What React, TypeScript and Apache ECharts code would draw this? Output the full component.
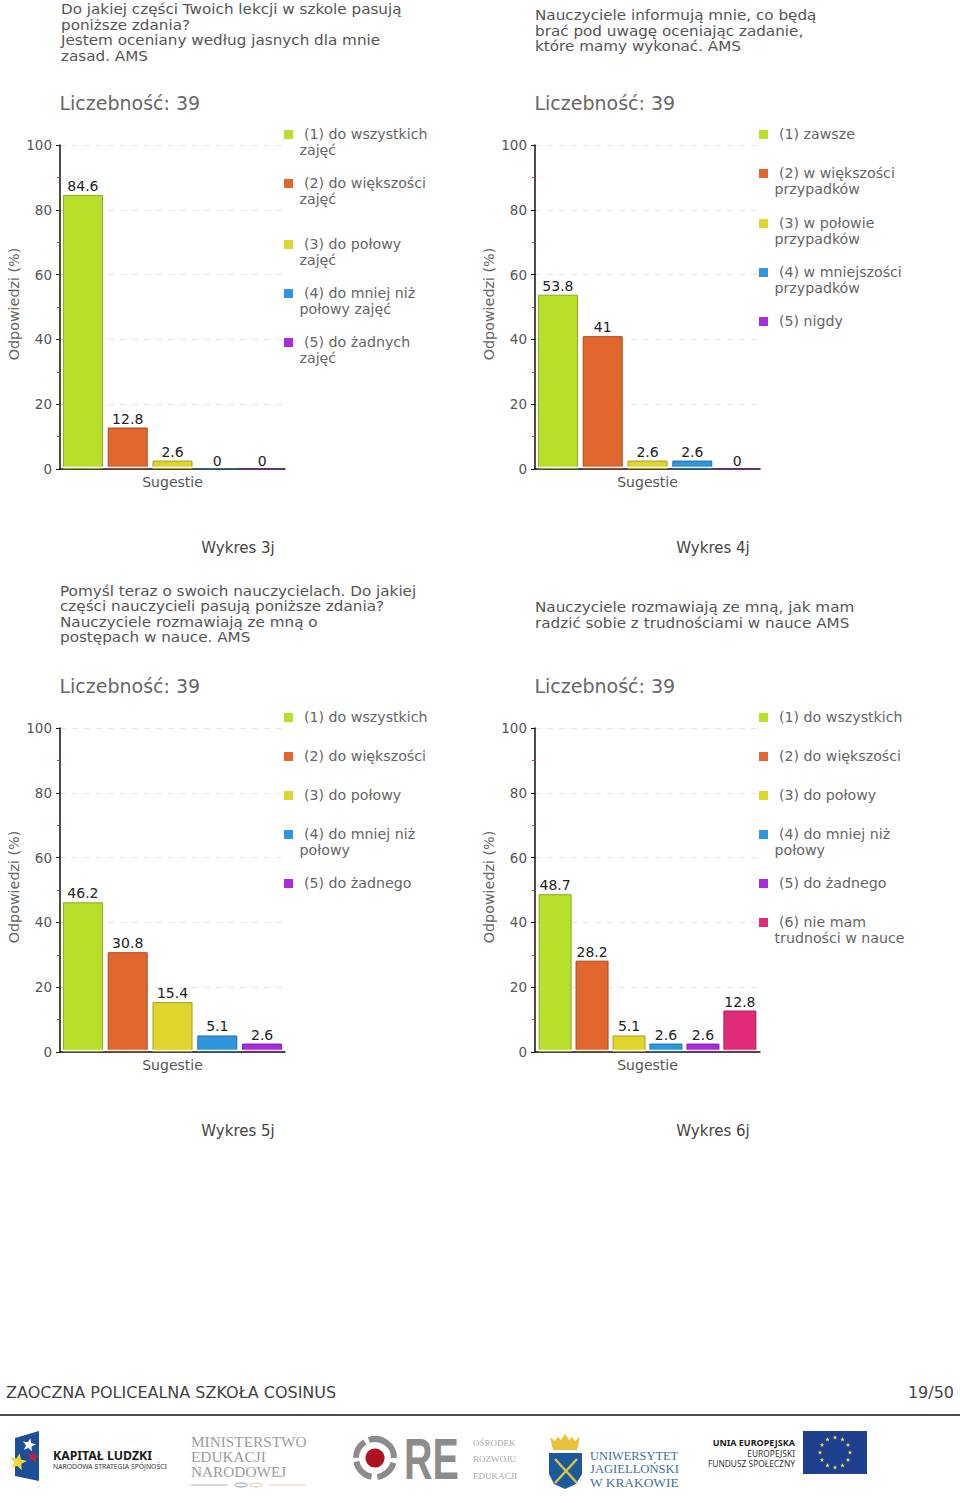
import React, { useEffect, useRef } from "react";
import * as echarts from "echarts";

const FONT = '"DejaVu Sans"';
const COLORS = ["#b8e02a", "#e0662e", "#e0d52c", "#2f95dd", "#a92ce0", "#e02c78"];
const BORDERS = ["#8aa828", "#a84a20", "#a89e20", "#2070a8", "#7c20a8", "#a82058"];
const CATEGORY = ["Sugestie"];
const COUNT_LABEL = "Liczebność: 39";

const values3j = [84.6, 12.8, 2.6, 0, 0];
const values4j = [53.8, 41, 2.6, 2.6, 0];
const values5j = [46.2, 30.8, 15.4, 5.1, 2.6];
const values6j = [48.7, 28.2, 5.1, 2.6, 2.6, 12.8];

const captions = ["Wykres 3j", "Wykres 4j", "Wykres 5j", "Wykres 6j"];

const title3j = ["Do jakiej części Twoich lekcji w szkole pasują", "poniższe zdania?", "Jestem oceniany według jasnych dla mnie", "zasad. AMS"];
const title4j = ["Nauczyciele informują mnie, co będą", "brać pod uwagę oceniając zadanie,", "które mamy wykonać. AMS"];
const title5j = ["Pomyśl teraz o swoich nauczycielach. Do jakiej", "części nauczycieli pasują poniższe zdania?", "Nauczyciele rozmawiają ze mną o", "postępach w nauce. AMS"];
const title6j = ["Nauczyciele rozmawiają ze mną, jak mam", "radzić sobie z trudnościami w nauce AMS"];

const legend3j = [["(1) do wszystkich", "zajęć"], ["(2) do większości", "zajęć"], ["(3) do połowy", "zajęć"], ["(4) do mniej niż", "połowy zajęć"], ["(5) do żadnych", "zajęć"]];
const legend4j = [["(1) zawsze"], ["(2) w większości", "przypadków"], ["(3) w połowie", "przypadków"], ["(4) w mniejszości", "przypadków"], ["(5) nigdy"]];
const legend5j = [["(1) do wszystkich"], ["(2) do większości"], ["(3) do połowy"], ["(4) do mniej niż", "połowy"], ["(5) do żadnego"]];
const legend6j = [["(1) do wszystkich"], ["(2) do większości"], ["(3) do połowy"], ["(4) do mniej niż", "połowy"], ["(5) do żadnego"], ["(6) nie mam", "trudności w nauce"]];

const charts = [
  { values: values3j, title: title3j, titleX: 61, titleY: [9, 25, 40, 56], legend: legend3j, legendY: [134, 183, 244, 293, 342], col: 0, row: 0 },
  { values: values4j, title: title4j, titleX: 535, titleY: [15, 31, 46], legend: legend4j, legendY: [134, 173, 223, 272, 321], col: 1, row: 0 },
  { values: values5j, title: title5j, titleX: 60, titleY: [591, 606, 622, 637], legend: legend5j, legendY: [717, 756, 795, 834, 883], col: 0, row: 1 },
  { values: values6j, title: title6j, titleX: 535, titleY: [607, 623], legend: legend6j, legendY: [717, 756, 795, 834, 883, 922], col: 1, row: 1 },
];

const COL_DX = 475;
const ROW_DY = 583;

function txt(text: string, x: number, y: number, font: string, fill: string, align = "left") {
  return { type: "text", silent: true, style: { text, x, y, font, fill, textAlign: align, textVerticalAlign: "middle" } };
}

function wideTxt(text: string, x: number, y: number, font: string, fill: string, scaleX: number) {
  return { type: "text", silent: true, x, y, scaleX, style: { text, x: 0, y: 0, font, fill, textVerticalAlign: "middle" } };
}

function star(cx: number, cy: number, r: number, fill: string, rot = 0) {
  const points: number[][] = [];
  for (let i = 0; i < 10; i++) {
    const a = -Math.PI / 2 + rot + (i * Math.PI) / 5;
    const rr = i % 2 === 0 ? r : r * 0.42;
    points.push([cx + rr * Math.cos(a), cy + rr * Math.sin(a)]);
  }
  return { type: "polygon", silent: true, shape: { points }, style: { fill } };
}

function logos(): any[] {
  const g: any[] = [];
  // Kapitał Ludzki
  g.push({ type: "polygon", silent: true, shape: { points: [[15, 1438], [39, 1431], [39, 1481], [15, 1476]] }, style: { fill: "#1d4f97" } });
  g.push(star(29, 1445, 7, "#ffffff", 0.2));
  g.push(star(33, 1457, 6, "#c5223a", 0.2));
  g.push(star(18, 1462, 9, "#f4d93a", 0.2));
  g.push(txt("KAPITAŁ LUDZKI", 53, 1455, `bold 12.3px "Noto Sans"`, "#1a1a1a"));
  g.push(txt("NARODOWA STRATEGIA SPÓJNOŚCI", 53, 1466, `6.8px "Noto Sans"`, "#333333"));
  // MEN
  g.push(txt("MINISTERSTWO", 191, 1441, `15.3px "Liberation Serif"`, "#9c9c9c"));
  g.push(txt("EDUKACJI", 191, 1456, `15.3px "Liberation Serif"`, "#9c9c9c"));
  g.push(txt("NARODOWEJ", 191, 1471, `15.3px "Liberation Serif"`, "#9c9c9c"));
  g.push({ type: "line", silent: true, shape: { x1: 191, y1: 1485, x2: 228, y2: 1485 }, style: { stroke: "#a9b4c0", lineWidth: 1 } });
  g.push({ type: "line", silent: true, shape: { x1: 269, y1: 1485, x2: 306, y2: 1485 }, style: { stroke: "#ecd2b0", lineWidth: 1 } });
  g.push({ type: "ellipse", silent: true, shape: { cx: 241, cy: 1485, rx: 6, ry: 2 }, style: { fill: "none", stroke: "#7f93a8", lineWidth: 1 } });
  g.push({ type: "ellipse", silent: true, shape: { cx: 256, cy: 1485, rx: 6, ry: 2 }, style: { fill: "none", stroke: "#e6bd8c", lineWidth: 1 } });
  // ORE
  const rings = [[-1.9, 0.0], [0.25, 1.45], [1.75, 2.95], [3.15, 4.15]];
  rings.forEach(([a, b]) =>
    g.push({ type: "arc", silent: true, shape: { cx: 375, cy: 1458, r: 19, startAngle: a, endAngle: b }, style: { fill: "none", stroke: "#8c8c8c", lineWidth: 6 } })
  );
  g.push({ type: "circle", silent: true, shape: { cx: 375, cy: 1458, r: 9.5 }, style: { fill: "#ae1220" } });
  g.push(wideTxt("RE", 404, 1459, `bold 58px "Liberation Sans"`, "#8c8c8c", 0.68));
  g.push(txt("OŚRODEK", 473, 1443, `9px "Liberation Serif"`, "#a8a8a8"));
  g.push(txt("ROZWOJU", 473, 1459, `9px "Liberation Serif"`, "#a8a8a8"));
  g.push(txt("EDUKACJI", 473, 1476, `9px "Liberation Serif"`, "#a8a8a8"));
  // UJ
  g.push({ type: "polygon", silent: true, shape: { points: [[550, 1437], [555, 1441], [558, 1437], [561, 1440], [565, 1434], [569, 1440], [572, 1437], [575, 1441], [580, 1437], [577, 1450], [553, 1450]] }, style: { fill: "#e9c13a" } });
  g.push({ type: "polygon", silent: true, shape: { points: [[549, 1453], [582, 1453], [582, 1474], [576, 1484], [565, 1489], [554, 1484], [549, 1474]] }, style: { fill: "#1c5a9c" } });
  g.push({ type: "line", silent: true, shape: { x1: 555, y1: 1459, x2: 577, y2: 1483 }, style: { stroke: "#e0c040", lineWidth: 2.5 } });
  g.push({ type: "line", silent: true, shape: { x1: 577, y1: 1459, x2: 555, y2: 1483 }, style: { stroke: "#e0c040", lineWidth: 2.5 } });
  g.push(txt("UNIWERSYTET", 590, 1456, `12.4px "Liberation Serif"`, "#3d7099"));
  g.push(txt("JAGIELLOŃSKI", 590, 1469, `12.6px "Liberation Serif"`, "#3d7099"));
  g.push(txt("W KRAKOWIE", 590, 1482, `13.4px "Liberation Serif"`, "#3d7099"));
  // EU
  g.push(txt("UNIA EUROPEJSKA", 795, 1442, `bold 9px "Noto Sans"`, "#1a1a1a", "right"));
  g.push(txt("EUROPEJSKI", 795, 1453, `8.4px "Noto Sans"`, "#333333", "right"));
  g.push(txt("FUNDUSZ SPOŁECZNY", 795, 1463, `8.4px "Noto Sans"`, "#333333", "right"));
  g.push({ type: "rect", silent: true, shape: { x: 803, y: 1431, width: 64, height: 43 }, style: { fill: "#1f3f8f" } });
  for (let i = 0; i < 12; i++) {
    const a = (i * Math.PI) / 6;
    g.push(star(835 + 15 * Math.sin(a), 1452.5 - 15 * Math.cos(a), 2.4, "#e8e24a"));
  }
  return g;
}

function buildOption() {
  const grid: any[] = [];
  const xAxis: any[] = [];
  const yAxis: any[] = [];
  const series: any[] = [];
  const graphic: any[] = [];

  charts.forEach((c, i) => {
    const dx = c.col * COL_DX;
    const dy = c.row * ROW_DY;
    grid.push({ left: 60 + dx, top: 145 + dy, width: 225, height: 324 });
    xAxis.push({
      type: "category",
      gridIndex: i,
      data: CATEGORY,
      axisLine: { lineStyle: { color: "#111", width: 1.5 } },
      axisTick: { alignWithLabel: true, length: 3, lineStyle: { color: "#111" } },
      axisLabel: { color: "#555", fontFamily: FONT, fontSize: 14, margin: 6 },
    });
    yAxis.push({
      type: "value",
      gridIndex: i,
      min: 0,
      max: 100,
      interval: 20,
      name: "Odpowiedzi (%)",
      nameLocation: "middle",
      nameGap: 39,
      nameRotate: 90,
      nameTextStyle: { color: "#666", fontFamily: FONT, fontSize: 14.3, padding: [0, 0, 0, 6] },
      axisLine: { show: true, lineStyle: { color: "#111", width: 1.5 } },
      axisTick: { show: true, length: 4, lineStyle: { color: "#111" } },
      minorTick: { show: true, splitNumber: 2, length: 3, lineStyle: { color: "#d04040" } },
      axisLabel: { color: "#555", fontFamily: FONT, fontSize: 13.5, margin: 8 },
      splitLine: { lineStyle: { color: "#e4e4e4", type: [6, 6], width: 1 } },
    });

    const n = c.values.length;
    const barWidth = n === 6 ? 33 : 40;
    c.values.forEach((v, k) => {
      series.push({
        type: "bar",
        name: c.legend[k].join(" "),
        xAxisIndex: i,
        yAxisIndex: i,
        data: [{ value: v, label: { distance: v === 0 ? -1 : 2 } }],
        barWidth,
        barGap: "12%",
        barMinHeight: 2,
        itemStyle: { color: COLORS[k], borderColor: BORDERS[k], borderWidth: 1 },
        label: { show: true, position: "top", color: "#222", fontFamily: FONT, fontSize: 14 },
      });
    });

    graphic.push({ type: "rect", silent: true, z: 10, shape: { x: 61 + dx, y: 466.8 + dy, width: 224, height: 1.1 }, style: { fill: "#ffffff" } });
    c.title.forEach((line, k) => graphic.push(wideTxt(line, c.titleX, c.titleY[k], `14px ${FONT}`, "#555", 1.086)));
    graphic.push(txt(COUNT_LABEL, 59.5 + dx, 103 + dy, `19px ${FONT}`, "#666"));
    c.legend.forEach((lines, k) => {
      const y = c.legendY[k];
      graphic.push({ type: "rect", silent: true, shape: { x: 284 + dx, y: y - 4, width: 9, height: 9 }, style: { fill: COLORS[k] } });
      graphic.push(txt(lines[0], 304 + dx, y, `14.2px ${FONT}`, "#666"));
      if (lines[1]) graphic.push(txt(lines[1], 299.5 + dx, y + 15.5, `14.2px ${FONT}`, "#666"));
    });
    graphic.push(txt(captions[i], 238 + dx, 548 + dy, `15px ${FONT}`, "#444", "center"));
  });

  graphic.push(txt("ZAOCZNA POLICEALNA SZKOŁA COSINUS", 6, 1392, `16px ${FONT}`, "#444"));
  graphic.push(txt("19/50", 954, 1392, `16px ${FONT}`, "#444", "right"));
  graphic.push({ type: "line", silent: true, shape: { x1: 0, y1: 1415, x2: 960, y2: 1415 }, style: { stroke: "#111", lineWidth: 1.5 } });
  graphic.push(...logos());

  return { animation: false, backgroundColor: "#fff", grid, xAxis, yAxis, series, graphic };
}

export default function App() {
  const ref = useRef<HTMLDivElement>(null);
  useEffect(() => {
    const chart = echarts.init(ref.current!, null, { renderer: "svg" });
    chart.setOption(buildOption() as any);
    return () => chart.dispose();
  }, []);
  return <div ref={ref} style={{ position: "absolute", left: 0, top: 0, width: 960, height: 1503 }} />;
}
